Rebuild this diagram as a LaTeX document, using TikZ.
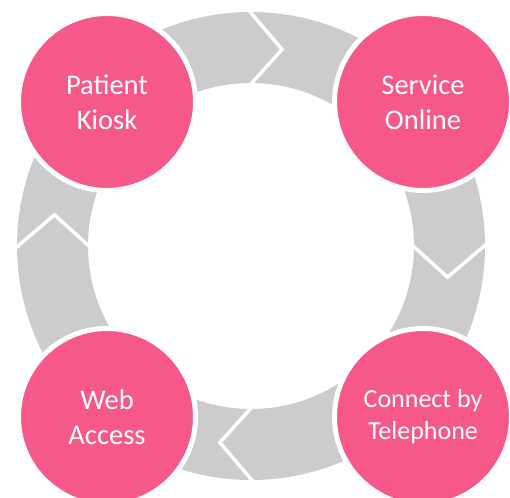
\documentclass[tikz,border=0pt]{standalone}
\usepackage{fontspec}
\setmainfont{Carlito}
\usepackage{tikz}

\definecolor{stagepink}{RGB}{247,88,138}
\definecolor{ringgray}{RGB}{204,204,204}

\begin{document}
\begin{tikzpicture}[x=1pt,y=1pt,
        stage/.style={circle, fill=stagepink, draw=white, line width=5pt,
            minimum size=177pt, inner sep=0pt, align=center, text=white,
            font=\fontsize{28.5}{35}\selectfont},
        notch/.style={draw=white, line width=3.5pt, line join=miter}]
        \useasboundingbox (0,0) rectangle (510,497);
        \coordinate (hub) at (251,251);

        % grey ring and the four chevron cuts
        \fill[ringgray, even odd rule] (hub) circle (234pt) (hub) circle (163pt);
        \draw[notch] ([shift={(91:238)}]hub) -- ([shift={(81:199)}]hub) -- ([shift={(91:159)}]hub);
        \draw[notch] ([shift={(1:238)}]hub) -- ([shift={(-9:199)}]hub) -- ([shift={(1:159)}]hub);
        \draw[notch] ([shift={(271:238)}]hub) -- ([shift={(261:199)}]hub) -- ([shift={(271:159)}]hub);
        \draw[notch] ([shift={(181:238)}]hub) -- ([shift={(171:199)}]hub) -- ([shift={(181:159)}]hub);

        % stages
        \node[stage] (kiosk) at (107,395) {Patient\\Kiosk};
        \node[stage] (online) at (423,395) {Service\\Online};
        \node[stage, font=\fontsize{26}{32}\selectfont] (telephone) at (423,80) {Connect by\\Telephone};
        \node[stage] (webaccess) at (107,80) {Web\\Access};
\end{tikzpicture}
\end{document}
